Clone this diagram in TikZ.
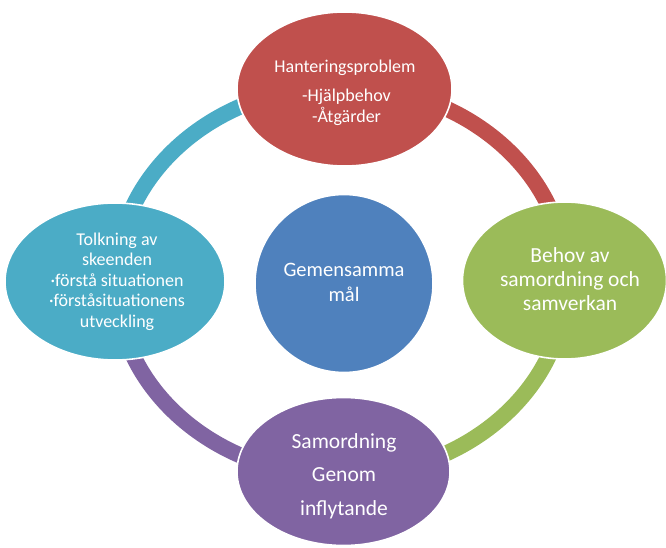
\documentclass[tikz,border=0pt]{standalone}
\usepackage{fontspec}
\setmainfont{Carlito}
\usetikzlibrary{shapes.geometric}
\definecolor{cred}{HTML}{C0504D}
\definecolor{cgreen}{HTML}{9BBB59}
\definecolor{cpurple}{HTML}{8064A2}
\definecolor{ccyan}{HTML}{4BACC6}
\definecolor{cblue}{HTML}{4F81BD}
\begin{document}
\begin{tikzpicture}[x=1pt,y=1pt,
  ringarc/.style={line width=16pt,line cap=butt},
  blob/.style={ellipse,draw=white,line width=1.6pt,inner sep=0pt},
  lbl/.style={text=white,align=center,inner sep=0pt}]
\useasboundingbox (0,0) rectangle (666,547);
\fill[white] (0,0) rectangle (666,547);
% ring
\coordinate (rc) at (341,266);
\draw[ringarc,cred]    ([shift={(90:225 and 195)}]rc)  arc[start angle=90,end angle=0,x radius=225,y radius=195];
\draw[ringarc,cgreen]  ([shift={(0:225 and 195)}]rc)   arc[start angle=0,end angle=-90,x radius=225,y radius=195];
\draw[ringarc,cpurple] ([shift={(-90:225 and 195)}]rc) arc[start angle=-90,end angle=-180,x radius=225,y radius=195];
\draw[ringarc,ccyan]   ([shift={(180:225 and 195)}]rc) arc[start angle=180,end angle=90,x radius=225,y radius=195];
% ellipses
\node[blob,fill=cred,minimum width=215pt,minimum height=154pt] (prob) at (344.5,458) {};
\node[blob,fill=cgreen,minimum width=204pt,minimum height=157pt] (behov) at (564.5,266.5) {};
\node[blob,fill=ccyan,minimum width=220pt,minimum height=157pt] (tolk) at (115,265.5) {};
\node[blob,fill=cpurple,minimum width=213pt,minimum height=148pt] (samord) at (343.5,75.5) {};
\node[blob,fill=cblue,minimum width=178pt,minimum height=178pt] (mal) at (344,263.5) {};
% texts
\node[lbl,font=\fontsize{18}{21}\selectfont] (probtxt) at (345,454.5)
  {Hanteringsproblem\\[8pt]\hspace*{3pt}-Hjälpbehov\\\hspace*{3pt}-Åtgärder};
\node[lbl,font=\fontsize{18}{20.5}\selectfont] (tolktxt) at (117,265.5)
  {Tolkning av\\skeenden\\·förstå situationen\\·förståsituationens\\utveckling};
\node[lbl,font=\fontsize{21.5}{24}\selectfont] (behovtxt) at (570,268.2)
  {Behov av\\samordning och\\samverkan};
\node[lbl,font=\fontsize{21.5}{33.5}\selectfont] (samordtxt) at (344,71)
  {Samordning\\Genom\\inflytande};
\node[lbl,font=\fontsize{20.5}{25}\selectfont] (maltxt) at (344,264.5)
  {Gemensamma\\mål};
\end{tikzpicture}
\end{document}
